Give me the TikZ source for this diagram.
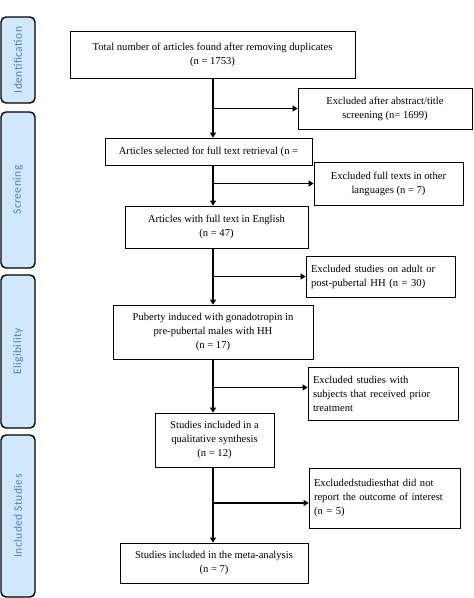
\documentclass[tikz,border=0pt]{standalone}
\usepackage{fontspec}
\setmainfont{Liberation Serif}
\newfontfamily\sidefont[LetterSpace=4]{Carlito}
\usetikzlibrary{arrows.meta}
\definecolor{phasefill}{RGB}{207,232,251}
\definecolor{phasetext}{RGB}{84,128,176}
\tikzset{
    box/.style={draw, line width=0.8pt, inner sep=3pt, align=center,
        font=\fontsize{10.6}{14}\selectfont},
    exbox/.style={box, align=left, inner sep=5pt},
    phase/.style={draw, line width=1.4pt, fill=phasefill, rounded corners=5pt,
        rotate=90, minimum height=34pt, text=phasetext,
        font=\sidefont\fontsize{11.5}{12}\selectfont},
    flow/.style={line width=1.6pt, -{Triangle[length=5pt,width=6pt]}},
}
\begin{document}
\begin{tikzpicture}[x=1pt,y=-1pt]
    \useasboundingbox[fill=white] (0,0) rectangle (474,598);
    % phases
    \node[phase, minimum width=86pt] (ident) at (18,60) {Identification};
    \node[phase, minimum width=156pt] (screen) at (18,190) {Screening};
    \node[phase, minimum width=153pt] (elig) at (18,351.5) {Eligibility};
    \node[phase, minimum width=162pt] (incl) at (18,516) {Included Studies};
    % main boxes
    \node[box, minimum width=285pt, minimum height=47pt] (total) at (212.5,54.5) {Total number of articles found after removing duplicates\\(n = 1753)};
    \node[box, minimum width=207pt, minimum height=27pt] (select) at (208.5,151.5) {Articles selected for full text retrieval (n =};
    \node[box, minimum width=183pt, minimum height=42pt] (english) at (216.5,227) {Articles with full text in English\\(n = 47)};
    \node[box, minimum width=200pt, minimum height=54pt] (puberty) at (213,332) {Puberty induced with gonadotropin in\\pre-pubertal males with HH\\(n = 17)};
    \node[box, minimum width=119pt, minimum height=54pt] (qual) at (214.5,440) {Studies included in a\\qualitative synthesis\\(n = 12)};
    \node[box, minimum width=188pt, minimum height=40pt] (meta) at (214,563) {Studies included in the meta-analysis\\(n = 7)};
    % excluded boxes
    \node[box, minimum width=174pt, minimum height=41pt] (exabs) at (385,108.5) {Excluded after abstract/title\\screening (n= 1699)};
    \node[box, minimum width=149pt, minimum height=43pt] (exlang) at (388.5,183.5) {Excluded full texts in other\\languages (n = 7)};
    \node[exbox, text width=139pt, minimum height=41pt] (exadult) at (380.5,276.5) {Excluded studies on adult or\\post-pubertal HH (n = 30)};
    \node[exbox, text width=140pt, minimum height=53pt] (exprior) at (383,393.5) {Excluded studies with\\subjects that received prior\\treatment};
    \node[exbox, text width=141pt, minimum height=60pt] (exout) at (384.5,498) {Excludedstudiesthat did not\\report the outcome of interest\\(n = 5)};
    \coordinate (spine) at (213,0);
    % arrows
    \draw[flow] (total.south -| spine) -- (select.north -| spine);
    \draw[flow] (select.south -| spine) -- (english.north -| spine);
    \draw[flow] (english.south -| spine) -- (puberty.north -| spine);
    \draw[flow] (puberty.south -| spine) -- (qual.north -| spine);
    \draw[flow] (qual.south -| spine) -- (meta.north -| spine);
    \draw[flow] (spine |- exabs.west) -- (exabs.west);
    \draw[flow] (spine |- exlang.west) -- (exlang.west);
    \draw[flow] (spine |- exadult.west) -- (exadult.west);
    \draw[flow] ([yshift=6pt]spine |- exprior.west) -- ([yshift=6pt]exprior.west);
    \draw[flow] ([yshift=-5pt]spine |- exout.west) -- ([yshift=-5pt]exout.west);
\end{tikzpicture}
\end{document}
